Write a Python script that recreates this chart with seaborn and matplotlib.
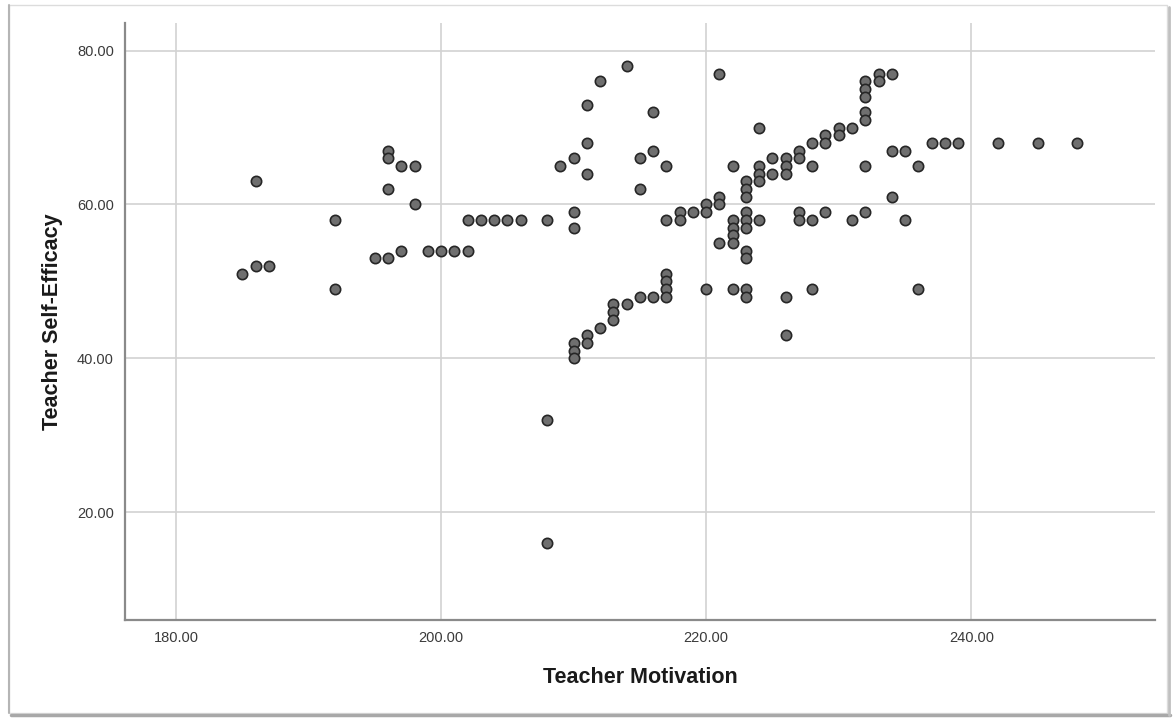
import matplotlib
matplotlib.use("Agg")
import matplotlib.pyplot as plt
import seaborn as sns
import pandas as pd
from matplotlib.patches import Rectangle
from matplotlib.lines import Line2D

motivation = [185, 186, 186, 187, 192, 192, 195, 196, 196, 196, 196, 197, 198, 198, 197,
              199, 200, 201, 202, 202, 203, 204, 205, 206, 208, 208, 208, 209, 210, 210,
              210, 210, 210, 210, 211, 211, 211, 211, 211, 212, 212, 213, 213, 213, 214,
              214, 215, 215, 215, 216, 216, 216, 217, 217, 217, 217, 217, 217, 218, 218,
              219, 220, 220, 220, 221, 221, 221, 221, 222, 222, 222, 222, 222, 222, 223,
              223, 223, 223, 223, 223, 223, 223, 223, 223, 224, 224, 224, 224, 224, 225,
              225, 226, 226, 226, 226, 226, 227, 227, 227, 227, 228, 228, 228, 228, 229,
              229, 229, 230, 230, 231, 231, 232, 232, 232, 232, 232, 232, 232, 233, 233,
              234, 234, 234, 235, 235, 236, 236, 237, 238, 239, 242, 245, 248]
efficacy = [51, 63, 52, 52, 58, 49, 53, 53, 67, 66, 62, 65, 65, 60, 54,
            54, 54, 54, 54, 58, 58, 58, 58, 58, 58, 32, 16, 65, 66, 59,
            57, 42, 41, 40, 73, 68, 64, 43, 42, 76, 44, 47, 46, 45, 78,
            47, 66, 62, 48, 72, 67, 48, 65, 58, 51, 50, 49, 48, 59, 58,
            59, 60, 59, 49, 77, 61, 60, 55, 65, 58, 57, 56, 55, 49, 63,
            62, 61, 59, 58, 57, 54, 53, 49, 48, 70, 65, 64, 63, 58, 66,
            64, 66, 65, 64, 48, 43, 67, 66, 59, 58, 68, 65, 58, 49, 69,
            68, 59, 70, 69, 70, 58, 76, 75, 74, 72, 71, 65, 59, 77, 76,
            77, 67, 61, 67, 58, 65, 49, 68, 68, 68, 68, 68, 68]

x_ticks = [180, 200, 220, 240]
y_ticks = [20, 40, 60, 80]

df = pd.DataFrame({"Teacher Motivation": motivation, "Teacher Self-Efficacy": efficacy})

sns.set_style("white")
plt.rcParams["font.family"] = ["Liberation Sans", "DejaVu Sans"]

W, H = 1173, 718
fig = plt.figure(figsize=(W / 100, H / 100), dpi=100)
ax = fig.add_axes([125 / W, 1 - 620 / H, (1155 - 125) / W, (620 - 23) / H])

sns.scatterplot(data=df, x="Teacher Motivation", y="Teacher Self-Efficacy", ax=ax,
                s=55, color="#6f6f6f", edgecolor="#262626", linewidth=1.2, zorder=3)

ax.set_xlim(176.15, 253.86)
ax.set_ylim(5.97, 83.6)
ax.set_xticks(x_ticks)
ax.set_yticks(y_ticks)
ax.set_xticklabels([f"{v:.2f}" for v in x_ticks])
ax.set_yticklabels([f"{v:.2f}" for v in y_ticks])
ax.grid(True, color="#d2d2d2", linewidth=1.2, zorder=0)
ax.set_axisbelow(True)
ax.tick_params(axis="both", length=0, labelsize=10.5, labelcolor="#3a3a3a", pad=8)
for side in ["top", "right"]:
    ax.spines[side].set_visible(False)
for side in ["left", "bottom"]:
    ax.spines[side].set_color("#8a8a8a")
    ax.spines[side].set_linewidth(1.6)

ax.set_xlabel("Teacher Motivation", fontsize=15.5, fontweight="bold", color="#1a1a1a", labelpad=16)
ax.set_ylabel("Teacher Self-Efficacy", fontsize=15.5, fontweight="bold", color="#1a1a1a", labelpad=10)

# outer frame with a soft shadow
fig.add_artist(Rectangle((9 / W, 1 - 713 / H), (1167 - 9) / W, (713 - 5) / H,
                         transform=fig.transFigure, fill=False, edgecolor="#dcdcdc", linewidth=1.0))
fig.add_artist(Line2D([11 / W, 1170 / W], [1 - 715 / H, 1 - 715 / H], transform=fig.transFigure,
                      color="#a8a8a8", linewidth=2.5))
fig.add_artist(Line2D([1169 / W, 1169 / W], [1 - 7 / H, 1 - 715 / H], transform=fig.transFigure,
                      color="#c0c0c0", linewidth=2.0))
fig.add_artist(Line2D([9 / W, 9 / W], [1 - 5 / H, 1 - 713 / H], transform=fig.transFigure,
                      color="#b5b5b5", linewidth=1.5))

fig.savefig("out.png", dpi=100)
